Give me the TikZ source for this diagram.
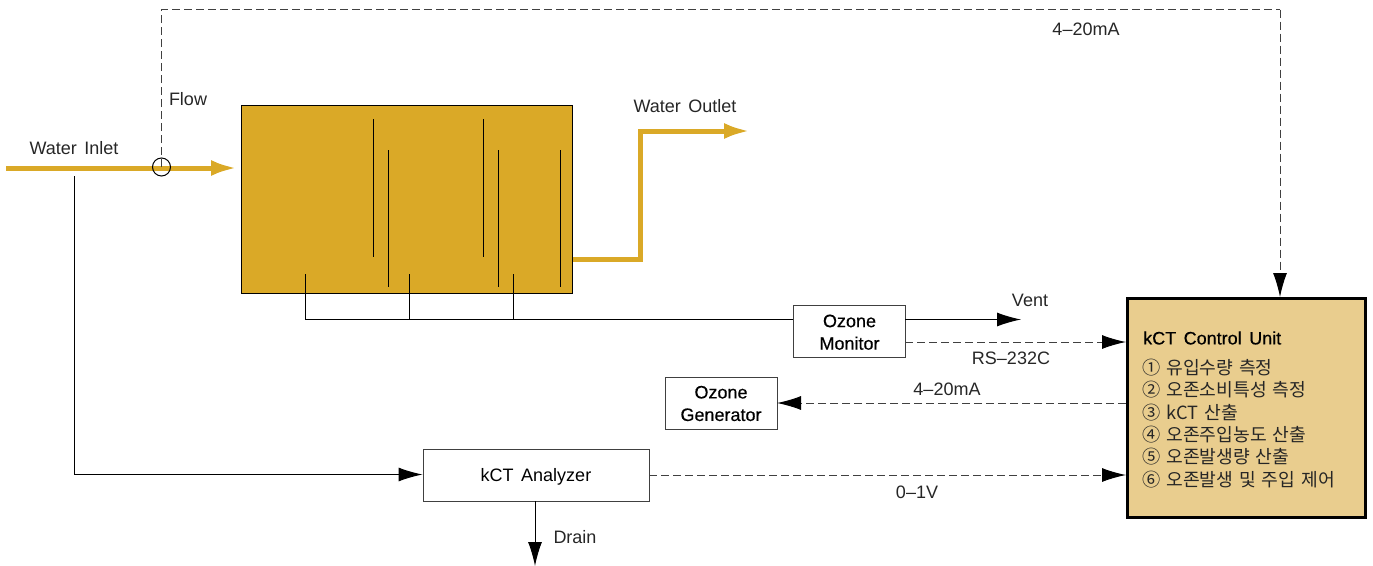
\documentclass[tikz,border=0pt]{standalone}
\usepackage{fontspec}
\setmainfont[WordSpace=1.5]{Liberation Sans}
\newfontfamily\krfont[WordSpace=1.45]{Noto Sans CJK KR}
\newfontfamily\boldish[FakeBold=0.35,WordSpace=1.5]{Liberation Sans}
\usetikzlibrary{arrows.meta}
\definecolor{gold}{HTML}{DAA927}
\definecolor{panel}{HTML}{E9CD8E}
\definecolor{dashgray}{HTML}{404040}
\tikzset{
  x=1pt,y=-1pt,
  txt/.style={font=\fontsize{18}{20}\selectfont,text=black!85,inner sep=0pt,anchor=center},
  boxnode/.style={draw=black!75,line width=1pt,fill=white,font=\fontsize{18}{22.5}\selectfont,align=center,inner sep=0pt,anchor=north west},
  thin line/.style={draw=black,line width=1pt},
  bafflel/.style={draw=black,line width=1pt},
  sig/.style={draw=dashgray,line width=1pt,dash pattern=on 8pt off 4pt},
  head/.style={-{Latex[length=24pt,width=14pt,color=black,sep=0pt]}},
  goldflow/.style={draw=gold,line width=5pt},
  goldhead/.style={-{Latex[length=26pt,width=16pt,color=gold]}},
  list/.style={font=\fontsize{18.2}{22.3}\selectfont,align=left,anchor=north west,inner sep=0pt,text=black!85},
}
\begin{document}
\begin{tikzpicture}
\useasboundingbox (0,0) rectangle (1373,565);
% tank
\node[draw=black,line width=1pt,fill=gold,minimum width=331.5pt,minimum height=188pt,inner sep=0pt,anchor=north west] (tank) at (240.5,104.5) {};
% baffles
\foreach \x/\a/\b in {373.5/119/257,388/150/287,483.5/119/257,498/150/287,560/150/287}
  \draw[bafflel] (\x,\a) -- (\x,\b);
% coordinates
\coordinate (inS) at (6,168);
\coordinate (inE) at (237,168);
\coordinate (outA) at (573,259);
\coordinate (outB) at (640,259);
\coordinate (outC) at (640,131);
\coordinate (outE) at (750,131);
\coordinate (d1) at (305,274);
\coordinate (d2) at (409,274);
\coordinate (d3) at (513,274);
\coordinate (m1) at (305,319.5);
\coordinate (m2) at (409,319.5);
\coordinate (m3) at (513,319.5);
\coordinate (vent) at (1021,319.5);
\coordinate (sampleS) at (74,176);
\coordinate (sampleB) at (74,474.5);
\coordinate (drain) at (535,566);
\coordinate (top1) at (161.5,9.5);
\coordinate (top2) at (1280,9.5);
% water lines
\draw[goldflow,goldhead] (inS) -- (inE);
\draw[goldflow,goldhead,line join=miter] (outA) -- (outB) -- (outC) -- (outE);
% nodes
\node[draw=black,line width=1pt,circle,minimum size=18pt,inner sep=0pt] (flowm) at (161.5,167) {};
\node[boxnode,font=\fontsize{18}{22.5}\boldish,minimum width=112pt,minimum height=52pt] (monitor) at (793,304.5) {\rule{0pt}{15pt}Ozone\\Monitor};
\node[boxnode,font=\fontsize{18}{22.5}\boldish,minimum width=112pt,minimum height=52pt] (generator) at (664.5,377) {Ozone\\Generator};
\node[boxnode,minimum width=226pt,minimum height=52pt] (analyzer) at (422.5,448.5) {\rule{0pt}{17pt}kCT Analyzer};
\node[draw=black,line width=3pt,fill=panel,minimum width=238pt,minimum height=219pt,inner sep=0pt,anchor=north west] (unit) at (1125.5,296.5) {};
% flow sensing dashed
\draw[sig] (161.5,167) -- (top1) -- (top2);
\draw[sig,head] (top2) -- (1280,297);
% ozone piping
\draw[thin line] (d1) -- (m1) -- (monitor.west |- m1);
\draw[thin line] (d2) -- (m2);
\draw[thin line] (d3) -- (m3);
\draw[thin line,head] (905,319.5) -- (vent);
% sample
\draw[thin line] (sampleS) -- (sampleB);
\draw[thin line,head] (sampleB) -- (analyzer.west |- sampleB);
\draw[thin line,head] (535,501) -- (drain);
% signals
\draw[sig,head] (905,342) -- (1126,342);
\draw[sig,head] (1126,403) -- (777,403);
\draw[sig,head] (649,475) -- (1126,475);
% labels
\node[txt] (l1) at (74,148) {Water Inlet};
\node[txt] (l2) at (188,99) {Flow};
\node[txt] (l3) at (685,106) {Water Outlet};
\node[txt] (l4) at (1086,29) {4--20mA};
\node[txt] (l5) at (1030,300) {Vent};
\node[txt] (l6) at (1011,358) {RS--232C};
\node[txt] (l7) at (947,389) {4--20mA};
\node[txt] (l8) at (917,492) {0--1V};
\node[txt] (l9) at (575,537) {Drain};
\node[font=\fontsize{18}{20}\boldish,inner sep=0pt,anchor=west] (title) at (1143,338) {kCT Control Unit};
\node[list] (items) at (1142,359) {\krfont ① 유입수량 측정\\\krfont ② 오존소비특성 측정\\\krfont ③ kCT 산출\\\krfont ④ 오존주입농도 산출\\\krfont ⑤ 오존발생량 산출\\\krfont ⑥ 오존발생 및 주입 제어};
\end{tikzpicture}
\end{document}
